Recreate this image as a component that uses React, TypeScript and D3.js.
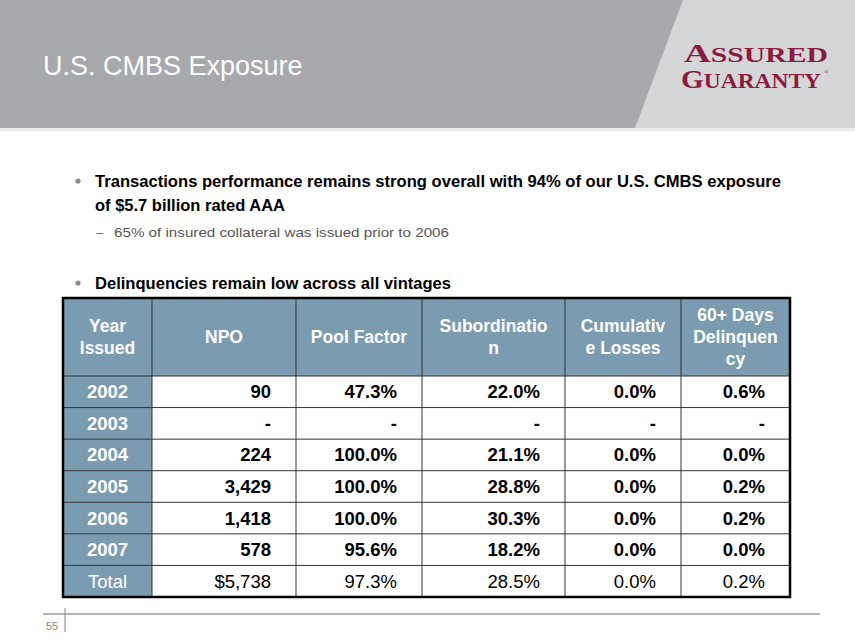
import React from "react";
import * as d3 from "d3";

const years = ["2002", "2003", "2004", "2005", "2006", "2007", "Total"];
const npo: (number | null)[] = [90, null, 224, 3429, 1418, 578, 5738];
const poolFactor: (number | null)[] = [0.473, null, 1.0, 1.0, 1.0, 0.956, 0.973];
const subordination: (number | null)[] = [0.22, null, 0.211, 0.288, 0.303, 0.182, 0.285];
const cumulativeLosses: (number | null)[] = [0.0, null, 0.0, 0.0, 0.0, 0.0, 0.0];
const delinquency: (number | null)[] = [0.006, null, 0.0, 0.002, 0.002, 0.0, 0.002];

const headers: string[][] = [
  ["Year", "Issued"],
  ["NPO"],
  ["Pool Factor"],
  ["Subordinatio", "n"],
  ["Cumulativ", "e Losses"],
  ["60+ Days", "Delinquen", "cy"],
];

const title = "U.S. CMBS Exposure";
const bullet1a = "Transactions performance remains strong overall with 94% of our U.S. CMBS exposure";
const bullet1b = "of $5.7 billion rated AAA";
const subBullet = "65% of insured collateral was issued prior to 2006";
const bullet2 = "Delinquencies remain low across all vintages";
const pageNumber = "55";

const colEdges = [63, 152, 296, 422, 565, 681, 790];
const HEADER_BLUE = "#7b9bb1";
const FONT = "Liberation Sans, Arial, sans-serif";

const fmtInt = d3.format(",");
const fmtPct = d3.format(".1%");

export default function App() {
  const top = 298;
  const headerBottom = 376;
  const bottom = 597;
  const y = d3.scaleBand<string>().domain(years).range([headerBottom, bottom]).padding(0);
  const x = d3.scaleOrdinal<number, number>().domain(d3.range(colEdges.length)).range(colEdges);

  const seriesCols = [
    npo.map((v, i) => (v == null ? "-" : (years[i] === "Total" ? "$" : "") + fmtInt(v))),
    poolFactor.map((v) => (v == null ? "-" : fmtPct(v))),
    subordination.map((v) => (v == null ? "-" : fmtPct(v))),
    cumulativeLosses.map((v) => (v == null ? "-" : fmtPct(v))),
    delinquency.map((v) => (v == null ? "-" : fmtPct(v))),
  ];

  const left = x(0);
  const right = x(colEdges.length - 1);

  return (
    <svg
      width={855}
      height={644}
      style={{ position: "absolute", left: 0, top: 0, background: "#fff" }}
      fontFamily={FONT}
    >
      {/* header band */}
      <rect x={0} y={0} width={855} height={128} fill="#a7a9ac" />
      <polygon points="683,0 855,0 855,128 635,128" fill="#d5d6d8" />
      <rect x={0} y={128} width={855} height={3} fill="#ececec" />
      <text x={43} y={75} fill="#ffffff" fontSize={27}>
        {title}
      </text>
      {/* logo */}
      <g fill="#8c1c3f" fontFamily="Liberation Serif, Times New Roman, serif" fontWeight="bold">
        <text x={684} y={62} textLength={144} lengthAdjust="spacingAndGlyphs">
          <tspan fontSize={25}>A</tspan>
          <tspan fontSize={20}>SSURED</tspan>
        </text>
        <text x={681} y={88} textLength={140} lengthAdjust="spacingAndGlyphs">
          <tspan fontSize={25}>G</tspan>
          <tspan fontSize={20}>UARANTY</tspan>
        </text>
        <text x={824} y={74} fontSize={6} fontWeight="normal">
          ®
        </text>
      </g>

      {/* bullets */}
      <circle cx={78} cy={181} r={2.6} fill="#8c8c8c" />
      <text x={95} y={187} fontSize={16.5} fontWeight="bold" fill="#000" textLength={686} lengthAdjust="spacingAndGlyphs">
        {bullet1a}
      </text>
      <text x={95} y={211} fontSize={16.5} fontWeight="bold" fill="#000" textLength={190} lengthAdjust="spacingAndGlyphs">
        {bullet1b}
      </text>
      <text x={96} y={237} fontSize={13} fill="#666">
        –
      </text>
      <text x={114} y={237} fontSize={13.5} fill="#555" textLength={335} lengthAdjust="spacingAndGlyphs">
        {subBullet}
      </text>
      <circle cx={78} cy={283} r={2.6} fill="#8c8c8c" />
      <text x={95} y={289} fontSize={16.5} fontWeight="bold" fill="#000" textLength={356} lengthAdjust="spacingAndGlyphs">
        {bullet2}
      </text>

      {/* table */}
      <rect x={left} y={top} width={right - left} height={headerBottom - top} fill={HEADER_BLUE} />
      {years.map((yr) => (
        <rect key={"c" + yr} x={left} y={y(yr)!} width={x(1) - left} height={y.bandwidth()} fill={HEADER_BLUE} />
      ))}
      {years.map((yr) => (
        <rect key={"w" + yr} x={x(1)} y={y(yr)!} width={right - x(1)} height={y.bandwidth()} fill="#ffffff" />
      ))}

      {/* header text */}
      {headers.map((lines, c) => {
        const cx = (x(c) + x(c + 1)) / 2;
        const cy = (top + headerBottom) / 2;
        const lh = 22;
        return (
          <text key={"h" + c} x={cx} textAnchor="middle" fill="#fff" fontWeight="bold" fontSize={17.5}>
            {lines.map((ln, k) => (
              <tspan key={k} x={cx} y={cy + (k - (lines.length - 1) / 2) * lh + 6}>
                {ln}
              </tspan>
            ))}
          </text>
        );
      })}

      {/* body text */}
      {years.map((yr, r) => {
        const isTotal = yr === "Total";
        const cy = y(yr)! + y.bandwidth() / 2 + 6.5;
        return (
          <g key={"r" + yr} fontWeight={isTotal ? "normal" : "bold"} fontSize={18.5}>
            <text x={(x(0) + x(1)) / 2} y={cy} textAnchor="middle" fill="#fff">
              {yr}
            </text>
            {seriesCols.map((col, c) => (
              <text key={c} x={x(c + 2) - 25} y={cy} textAnchor="end" fill="#000">
                {col[r]}
              </text>
            ))}
          </g>
        );
      })}

      {/* grid lines */}
      {years.slice(0, -1).map((yr) => (
        <line key={"hl" + yr} x1={left} x2={right} y1={y(yr)! + y.bandwidth()} y2={y(yr)! + y.bandwidth()} stroke="#333" strokeWidth={1} />
      ))}
      <line x1={left} x2={right} y1={headerBottom} y2={headerBottom} stroke="#333" strokeWidth={1} />
      {colEdges.slice(1, -1).map((cx, i) => (
        <line key={"vl" + i} x1={cx} x2={cx} y1={top} y2={bottom} stroke="#333" strokeWidth={1} />
      ))}
      <rect x={left} y={top} width={right - left} height={bottom - top} fill="none" stroke="#000" strokeWidth={2.5} />

      {/* footer */}
      <line x1={43} x2={820} y1={614} y2={614} stroke="#b4b4b4" strokeWidth={2} />
      <line x1={65} x2={65} y1={608} y2={632} stroke="#888" strokeWidth={1} />
      <text x={46} y={630} fontSize={11} fill="#888">
        {pageNumber}
      </text>
    </svg>
  );
}
